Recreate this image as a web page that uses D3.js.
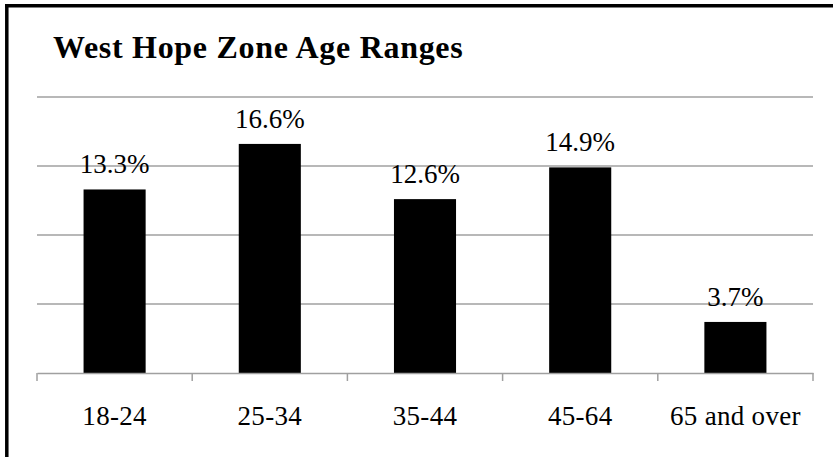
<!DOCTYPE html>
<html><head><meta charset="utf-8">
<script src="https://cdn.jsdelivr.net/npm/d3@7"></script>
<style>html,body{margin:0;padding:0;background:#fff;overflow:hidden}svg{display:block}</style>
</head><body>
<script>
const title = "West Hope Zone Age Ranges";
const categories = ["18-24","25-34","35-44","45-64","65 and over"];
const values = [13.3, 16.6, 12.6, 14.9, 3.7];
const yTicks = [0, 5, 10, 15, 20];

(function () {
const W = 834, H = 457;
const svg = d3.select("body").append("svg").attr("width", W).attr("height", H);
svg.append("rect").attr("width", W).attr("height", H).attr("fill", "#fff");

// outer frame (only left and top edges visible)
svg.append("line").attr("x1", 6.8).attr("x2", 6.8).attr("y1", 4).attr("y2", H)
  .attr("stroke", "#000").attr("stroke-width", 3.5);
svg.append("line").attr("x1", 5).attr("x2", W - 1).attr("y1", 5.8).attr("y2", 5.8)
  .attr("stroke", "#000").attr("stroke-width", 3.5);

const pLeft = 37, pRight = 813, pTop = 97, pBottom = 373;
const x = d3.scaleBand().domain(categories).range([pLeft, pRight]).paddingInner(0).paddingOuter(0);
const y = d3.scaleLinear().domain([0, 20]).range([pBottom, pTop]);

const font = "'Liberation Serif', 'Times New Roman', serif";

svg.append("text").attr("x", 53).attr("y", 58).text(title)
  .attr("font-family", font).attr("font-weight", "bold").attr("font-size", 32)
  .attr("letter-spacing", 0.7).attr("fill", "#000");

// gridlines
svg.append("g").selectAll("line").data(yTicks.filter(d => d > 0)).join("line")
  .attr("x1", pLeft).attr("x2", pRight).attr("y1", d => y(d)).attr("y2", d => y(d))
  .attr("stroke", "#a0a0a0").attr("stroke-width", 1.5);

// bars
const bw = x.bandwidth() * 0.4;
svg.append("g").selectAll("rect").data(values).join("rect")
  .attr("x", (d, i) => x(categories[i]) + (x.bandwidth() - bw) / 2)
  .attr("y", d => y(d)).attr("width", bw).attr("height", d => pBottom - y(d))
  .attr("fill", "#000");

// x axis
const xAxis = d3.axisBottom(x).tickSize(0).tickFormat("");
const gx = svg.append("g").attr("transform", `translate(0,${pBottom})`).call(xAxis);
gx.select(".domain").attr("stroke", "#a0a0a0").attr("stroke-width", 1.5);
const bounds = categories.map(c => x(c)).concat([pRight]);
gx.selectAll(".bt").data(bounds).join("line").attr("class", "bt")
  .attr("x1", d => d).attr("x2", d => d).attr("y1", 0).attr("y2", 8)
  .attr("stroke", "#a0a0a0").attr("stroke-width", 1.5);

svg.append("g").selectAll("text").data(categories).join("text")
  .attr("x", d => x(d) + x.bandwidth() / 2).attr("y", 425)
  .attr("text-anchor", "middle").attr("font-family", font).attr("font-size", 27)
  .attr("letter-spacing", 0.3).attr("fill", "#000")
  .text(d => d);

// value labels
svg.append("g").selectAll("text").data(values).join("text")
  .attr("x", (d, i) => x(categories[i]) + x.bandwidth() / 2).attr("y", d => y(d) - 16)
  .attr("text-anchor", "middle").attr("font-family", font).attr("font-size", 27).attr("fill", "#000")
  .text(d => d.toFixed(1) + "%");
})();
</script>
</body></html>
